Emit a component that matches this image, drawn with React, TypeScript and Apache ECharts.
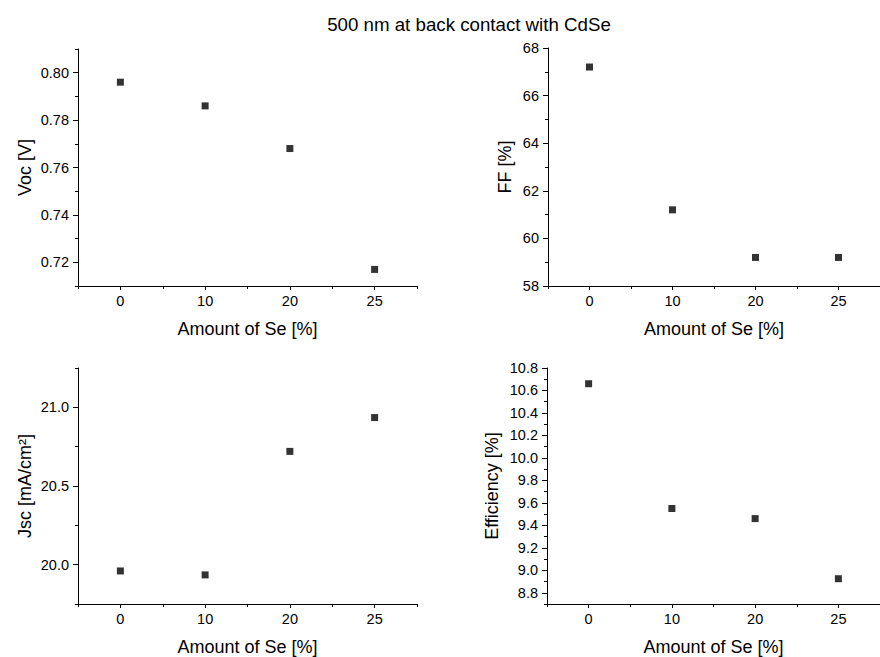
import { useEffect, useRef } from "react";
import * as echarts from "echarts";

// Selenium content of the CdSe back-contact layer
const seAmounts = ["0", "10", "20", "25"];

// Device parameters per Se amount
const vocValues = [0.796, 0.786, 0.768, 0.717];
const ffValues = [67.2, 61.2, 59.2, 59.2];
const jscValues = [19.96, 19.935, 20.72, 20.935];
const efficiencyValues = [10.66, 9.55, 9.46, 8.925];

// Labelled (major) tick values of each y axis
const vocTicks = [0.72, 0.74, 0.76, 0.78, 0.8];
const ffTicks = [58, 60, 62, 64, 66, 68];
const jscTicks = [20.0, 20.5, 21.0];
const efficiencyTicks = [8.8, 9.0, 9.2, 9.4, 9.6, 9.8, 10.0, 10.2, 10.4, 10.6, 10.8];

const FONT = "'Liberation Sans', Arial, Helvetica, sans-serif";
const INK = "#000";

type Panel = {
  yName: string;
  values: number[];
  ticks: number[];
  min: number;
  max: number;
  minorStep: number;
  decimals: number;
  nameGap: number;
  grid: { left: number; top: number; width: number; height: number };
};

const panels: Panel[] = [
  {
    yName: "Voc [V]",
    values: vocValues,
    ticks: vocTicks,
    min: 0.71,
    max: 0.81,
    minorStep: 0.01,
    decimals: 2,
    nameGap: 44,
    grid: { left: 78, top: 49, width: 339, height: 237 },
  },
  {
    yName: "FF [%]",
    values: ffValues,
    ticks: ffTicks,
    min: 58,
    max: 68,
    minorStep: 1,
    decimals: 0,
    nameGap: 34,
    grid: { left: 548, top: 48, width: 339, height: 238 },
  },
  {
    yName: "Jsc [mA/cm²]",
    values: jscValues,
    ticks: jscTicks,
    min: 19.75,
    max: 21.25,
    minorStep: 0.25,
    decimals: 1,
    nameGap: 44,
    grid: { left: 78, top: 368, width: 339, height: 238 },
  },
  {
    yName: "Efficiency [%]",
    values: efficiencyValues,
    ticks: efficiencyTicks,
    min: 8.7,
    max: 10.8,
    minorStep: 0.1,
    decimals: 1,
    nameGap: 46,
    grid: { left: 547, top: 368, width: 339, height: 237 },
  },
];

function buildOption() {
  const grids: any[] = [];
  const xAxes: any[] = [];
  const yAxes: any[] = [];
  const series: any[] = [];

  panels.forEach((p, i) => {
    grids.push({ ...p.grid, show: false, containLabel: false });

    // main x axis: line, labels, ticks under each category
    xAxes.push({
      type: "category",
      gridIndex: i,
      position: "bottom",
      data: seAmounts,
      name: "Amount of Se [%]",
      nameLocation: "middle",
      nameGap: 34,
      nameTextStyle: { fontFamily: FONT, fontSize: 18, color: INK },
      axisLine: { show: true, onZero: false, lineStyle: { color: INK, width: 1 } },
      axisTick: { show: true, alignWithLabel: true, length: 4, lineStyle: { color: INK } },
      axisLabel: { fontFamily: FONT, fontSize: 14.5, color: INK, margin: 7 },
      splitLine: { show: false },
    });
    // companion x axis: short ticks between categories
    xAxes.push({
      type: "category",
      gridIndex: i,
      position: "bottom",
      data: seAmounts,
      axisLine: { show: false, onZero: false },
      axisTick: { show: true, alignWithLabel: false, length: 3, lineStyle: { color: INK } },
      axisLabel: { show: false },
      splitLine: { show: false },
    });

    // main y axis: line, labels and long ticks
    yAxes.push({
      type: "value",
      gridIndex: i,
      position: "left",
      min: p.min,
      max: p.max,
      name: p.yName,
      nameLocation: "middle",
      nameRotate: 90,
      nameGap: p.nameGap,
      nameTextStyle: { fontFamily: FONT, fontSize: 18, color: INK },
      axisLine: { show: true, onZero: false, lineStyle: { color: INK, width: 1 } },
      axisTick: { show: true, length: 5, customValues: p.ticks, lineStyle: { color: INK } },
      axisLabel: {
        fontFamily: FONT,
        fontSize: 14.5,
        color: INK,
        margin: 9,
        customValues: p.ticks,
        formatter: (v: number) => v.toFixed(p.decimals),
      },
      splitLine: { show: false },
    });
    // companion y axis: short ticks at every minor step
    yAxes.push({
      type: "value",
      gridIndex: i,
      position: "left",
      min: p.min,
      max: p.max,
      interval: p.minorStep,
      axisLine: { show: false, onZero: false },
      axisTick: { show: true, length: 3, lineStyle: { color: INK } },
      axisLabel: { show: false },
      splitLine: { show: false },
    });

    series.push({
      type: "scatter",
      xAxisIndex: i * 2,
      yAxisIndex: i * 2,
      data: p.values,
      symbol: "rect",
      symbolSize: 7,
      itemStyle: { color: INK },
    });
  });

  return {
    animation: false,
    backgroundColor: "#fff",
    textStyle: { fontFamily: FONT },
    grid: grids,
    xAxis: xAxes,
    yAxis: yAxes,
    series,
    graphic: [
      {
        type: "text",
        x: 469,
        y: 24.5,
        style: {
          text: "500 nm at back contact with CdSe",
          fontFamily: FONT,
          fontSize: 18.7,
          fill: INK,
          textAlign: "center",
          textVerticalAlign: "middle",
        },
      },
    ],
  };
}

export default function App() {
  const ref = useRef<HTMLDivElement>(null);

  useEffect(() => {
    document.body.style.margin = "0";
    if (!ref.current) return;
    const chart = echarts.init(ref.current, undefined, { renderer: "svg" });
    chart.setOption(buildOption() as any);
    return () => chart.dispose();
  }, []);

  return <div ref={ref} style={{ width: 880, height: 657, background: "#fff" }} />;
}
